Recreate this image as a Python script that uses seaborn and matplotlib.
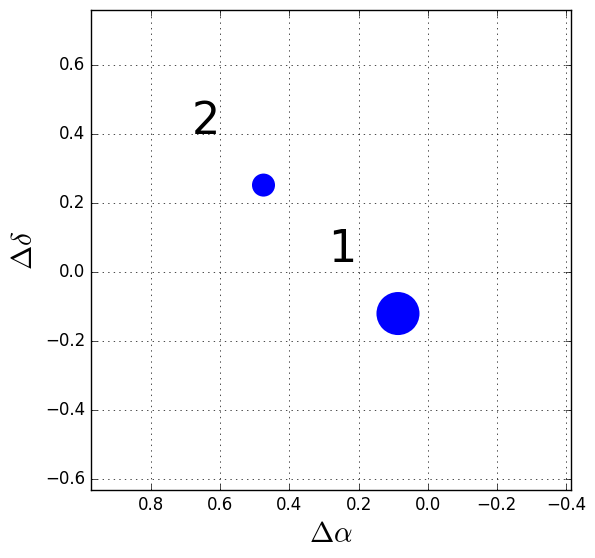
import numpy as np
import pandas as pd
import seaborn as sns
import matplotlib
matplotlib.use("Agg")
import matplotlib.pyplot as plt

# estilo clássico do matplotlib (ticks para dentro, grade pontilhada)
plt.style.use("classic")

# posições relativas das componentes
delta_ra = [0.086, 0.475]
delta_dec = [-0.120, 0.252]
fluxo = [2.0, 1.0]
rotulos = ["1", "2"]
rotulo_x = [0.207, 0.60]
rotulo_y = [0.028, 0.40]

xticks = [0.8, 0.6, 0.4, 0.2, 0.0, -0.2, -0.4]
yticks = [-0.6, -0.4, -0.2, 0.0, 0.2, 0.4, 0.6]

df = pd.DataFrame({"ra": delta_ra, "dec": delta_dec, "fluxo": fluxo})

fig = plt.figure(figsize=(5.95, 5.58), dpi=100, facecolor="white")
ax = fig.add_axes([91 / 595, 1 - 490 / 558, 480 / 595, 480 / 558])
ax.set_facecolor("white")

sns.scatterplot(data=df, x="ra", y="dec", size="fluxo", sizes=(275, 960),
                color="blue", linewidth=0, legend=False, ax=ax, zorder=3)

for t, x, y in zip(rotulos, rotulo_x, rotulo_y):
    ax.text(x, y, t, fontsize=32, ha="right", va="baseline")

ax.set_xlim(0.974, -0.4145)
ax.set_ylim(-0.631, 0.759)
ax.set_xticks(xticks)
ax.set_yticks(yticks)
ax.grid(True, linestyle=":", color="black", linewidth=0.5)
ax.set_xlabel(r"$\Delta\alpha$", fontsize=21)
ax.set_ylabel(r"$\Delta\delta$", fontsize=21)

fig.savefig("out.png", dpi=100, facecolor="white")
